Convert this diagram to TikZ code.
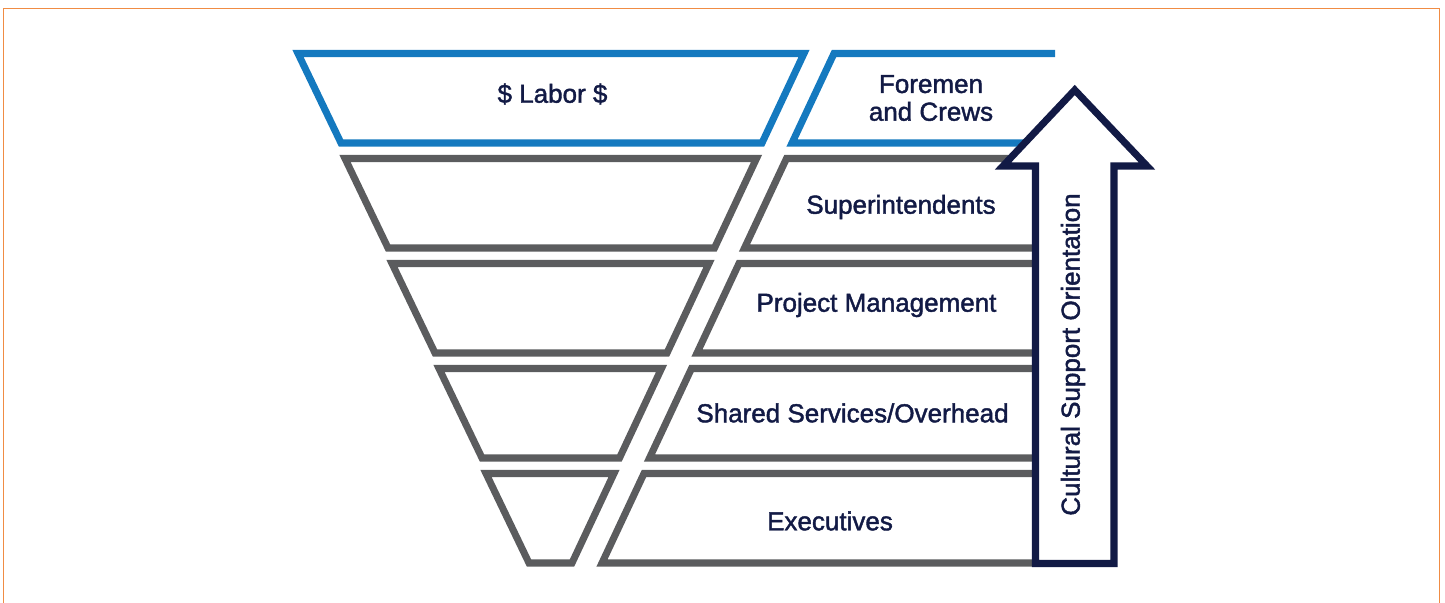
\documentclass[tikz,border=0pt]{standalone}
\usepackage{fontspec}
\newfontfamily\tierfamily{Liberation Sans}[FakeBold=1.6]
\usepackage{tikz}
\usepackage{xcolor}

\definecolor{laborblue}{HTML}{1479BF}
\definecolor{tiergray}{HTML}{5B5C5E}
\definecolor{navy}{HTML}{121A45}
\definecolor{frameorange}{HTML}{F08C44}
\newcommand{\tierfont}{\tierfamily\fontsize{7.4pt}{7.9pt}\selectfont}

\begin{document}
\begin{tikzpicture}[
  tier/.style={draw=tiergray, line width=2pt},
  toptier/.style={tier, draw=laborblue},
  lbl/.style={font=\tierfont, text=navy, align=center, inner sep=0pt},
  uparrow/.style={draw=navy, fill=white, line width=2pt}
]
  \useasboundingbox (0,0) rectangle (14.45,6.03);
  \draw[frameorange, line width=0.5pt] (0.035,-1) |- (14.395,5.945) -- (14.395,-1);

  % funnel, left half
  \draw[toptier] (2.98,5.495) -- (8.04,5.495) -- (7.62,4.60) -- (3.41,4.60) -- cycle;
  \draw[tier] (3.45,4.445) -- (7.565,4.445) -- (7.145,3.55) -- (3.88,3.55) -- cycle;
  \draw[tier] (3.92,3.395) -- (7.09,3.395) -- (6.67,2.50) -- (4.35,2.50) -- cycle;
  \draw[tier] (4.39,2.345) -- (6.615,2.345) -- (6.195,1.45) -- (4.82,1.45) -- cycle;
  \draw[tier] (4.86,1.295) -- (6.14,1.295) -- (5.72,0.40) -- (5.29,0.40) -- cycle;

  % tiers, right half (open ends run under the arrow)
  \draw[toptier] (10.55,5.495) -- (8.34,5.495) -- (7.92,4.60) -- (10.70,4.60);
  \draw[tier] (10.70,4.445) -- (7.865,4.445) -- (7.445,3.55) -- (10.70,3.55);
  \draw[tier] (10.70,3.395) -- (7.39,3.395) -- (6.97,2.50) -- (10.70,2.50);
  \draw[tier] (10.70,2.345) -- (6.915,2.345) -- (6.495,1.45) -- (10.70,1.45);
  \draw[tier] (10.70,1.295) -- (6.44,1.295) -- (6.02,0.40) -- (10.70,0.40);

  % support arrow
  \draw[uparrow] (10.355,0.395) -- (10.355,4.37) -- (10.03,4.37) -- (10.7475,5.13)
    -- (11.47,4.37) -- (11.14,4.37) -- (11.14,0.395) -- cycle;

  \node[lbl] (labor)   at (5.525,5.09) {\$ Labor \$};
  \node[lbl] (foremen) at (9.31,5.05)  {Foremen\\and Crews};
  \node[lbl] (supt)    at (9.01,3.96)  {Superintendents};
  \node[lbl] (pm)      at (8.765,2.98) {Project Management};
  \node[lbl] (shared)  at (8.525,1.90) {Shared Services/Overhead};
  \node[lbl] (exec)    at (8.30,0.82)  {Executives};
  \node[lbl, rotate=90] (culture) at (10.73,2.485) {Cultural Support Orientation};
\end{tikzpicture}
\end{document}
